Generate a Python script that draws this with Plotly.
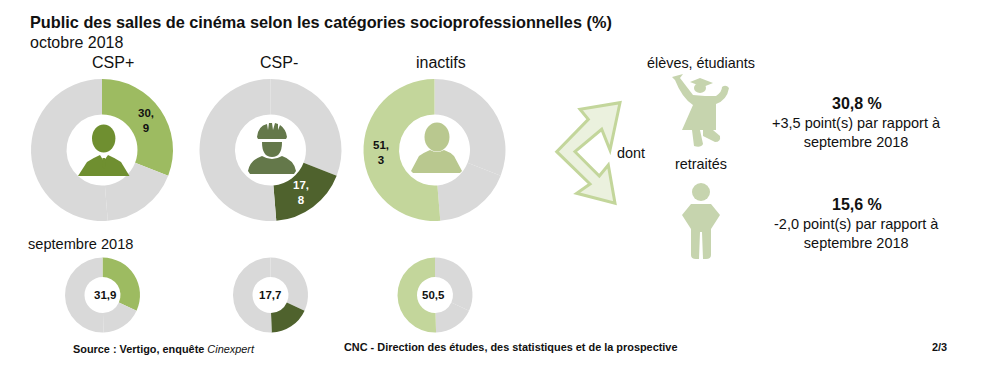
import plotly.graph_objects as go

groups = ["CSP+", "CSP-", "inactifs"]
segments = ["CSP+", "CSP-", "inactifs"]
october = [30.9, 17.8, 51.3]
september = [31.9, 17.7, 50.5]
oct_labels = ["30,<br>9", "17,<br>8", "51,<br>3"]
sep_labels = ["31,9", "17,7", "50,5"]
GREY = "#d9d9d9"
COL = ["#9dbb61", "#4f622d", "#c3d69b"]
W, H = 1000, 381
FONT = "Liberation Sans"
cx = [102, 270.5, 434.5]
big_cy, big_r = 150, 71
small_cx = [102.5, 270.5, 435]
small_cy, small_r = 295, 37.5

fig = go.Figure()


def donut(x, y, r, vals, k, hole):
    colors = [COL[k] if i == k else GREY for i in range(3)]
    fig.add_trace(go.Pie(
        values=vals, labels=segments, sort=False, direction="clockwise", rotation=0,
        hole=hole, textinfo="none", hoverinfo="label+value", showlegend=False,
        marker=dict(colors=colors, line=dict(width=0)),
        domain=dict(x=[(x - r) / W, (x + r) / W], y=[1 - (y + r) / H, 1 - (y - r) / H]),
    ))


for k in range(3):
    donut(cx[k], big_cy, big_r, october, k, 0.5)
    donut(small_cx[k], small_cy, small_r, september, k, 0.48)

shapes = []


def path(d, fill, line=None, lw=0):
    shapes.append(dict(type="path", path=d, fillcolor=fill, line=dict(color=line or fill, width=lw), xref="x", yref="y", layer="above"))


def ell(x, y, rx, ry, fill):
    shapes.append(dict(type="circle", x0=x - rx, x1=x + rx, y0=y - ry, y1=y + ry, fillcolor=fill, line=dict(width=0), xref="x", yref="y", layer="above"))


# businessman
c = "#6f8f30"
ell(103.7, 138.5, 11.7, 14, c)
path("M78,176 L87,162 Q93,158 100,155 L108,155 Q115,158 121,162 L129.5,176 Z", c)
path("M100,155 L103.7,161 L108,155 L106,154 L101,154 Z", "#ffffff")
path("M102.5,158 L105,158 L105.5,165 L103.7,169 L102,165 Z", c)
# worker
c = "#64784a"
path("M257,137 Q258,126 267,124 L268,130 L269,123 L272,123 L273,130 L275,123 L278,124 L278,130 L280,125 Q286,129 287,137 L286,139 L258,139 Z", c)
path("M262,142 L282,142 Q282,157 272,157 Q262,157 262,142 Z", c)
path("M248,171 Q250,160 262,156 Q272,162 282,156 Q294,160 296,171 L294,174 L250,174 Z", c)
# inactive person
c = "#b9c88f"
ell(437, 137, 12.5, 14.5, c)
path("M411,171 L419,156 Q425,152 430,150 Q437,154 444,150 Q450,152 454,156 L462,171 L460,173 L413,173 Z", c)
# student
c = "#c6d4ae"
path("M672,77 L683,74 L680,78 L693,95 L705,96 L716,96 Q722,92 722,87 Q726,84 729,88 Q727,100 716,104 L716,130 L682,130 L693,105 Q682,98 675,80 Z", c)
ell(700, 88, 6, 5, c)
path("M690,82 L700,78 L713,83 L703,87 Z", c)
path("M692,130 L700,130 L703,144 Q701,148 694,146 Z", c)
path("M703,130 L713,130 L720,136 Q721,142 715,142 L703,136 Z", c)
# retiree
ell(701, 192, 9, 9, c)
path("M691,204 L711,204 L720,215 L711,229 L711,255 Q711,259 706,259 L703,259 L702,232 L700,232 L699,259 L696,259 Q691,259 691,255 L691,229 L682,215 Z", c)
# double arrow
path("M556.7,151.7 L588.3,119.3 L580,109.3 L620,102.7 L610,150 L601.7,129.3 L575,151.7 L599.3,176 L608.3,165 L615,203.3 L576.7,193.3 L590,184 Z",
     "#ebf1de", "#c3d69b", 3)

ann = []


def text(x, y, s, size, anchor="center", color="#111111", bold=False):
    if bold:
        s = "<b>" + s + "</b>"
    ann.append(dict(x=x, y=y, text=s, showarrow=False, xref="x", yref="y", xanchor=anchor, yanchor="middle",
                    align="center", font=dict(family=FONT, size=size, color=color)))


text(28, 22, "Public des salles de cinéma selon les catégories socioprofessionnelles (%)", 16.3, "left", bold=True)
text(28, 42, "octobre 2018", 16, "left")
for k, g in enumerate(groups):
    text([113, 279, 441][k], 62, g, 16)
text(26, 244, "septembre 2018", 14.6, "left")
text(146, 120, oct_labels[0], 11.5, bold=True)
text(301, 192, oct_labels[1], 11.5, color="#ffffff", bold=True)
text(381, 152, oct_labels[2], 11.5, bold=True)
for k in range(3):
    text(small_cx[k] + [2, -1, -2][k], 295, sep_labels[k], 11.5, bold=True)
text(631, 153, "dont", 14.4)
text(701, 63, "élèves, étudiants", 14.4)
text(701, 164, "retraités", 14.4)
text(857, 103, "30,8 %", 16, bold=True)
text(856, 132, "+3,5 point(s) par rapport à<br>septembre 2018", 14.5)
text(857, 204, "15,6 %", 16, bold=True)
text(856, 233, "-2,0 point(s) par rapport à<br>septembre 2018", 14.5)
text(71, 349, "<b>Source : Vertigo, enquête</b> <i>Cinexpert</i>", 10.9, "left")
text(342, 347, "CNC - Direction des études, des statistiques et de la prospective", 10.9, "left", bold=True)
text(930, 347, "2/3", 10.9, "left", bold=True)

fig.update_layout(
    width=W, height=H, margin=dict(l=0, r=0, t=0, b=0), autosize=False,
    paper_bgcolor="#ffffff", plot_bgcolor="rgba(0,0,0,0)", shapes=shapes, annotations=ann,
    xaxis=dict(range=[0, W], visible=False, fixedrange=True, domain=[0, 1]),
    yaxis=dict(range=[H, 0], visible=False, fixedrange=True, domain=[0, 1]),
    showlegend=False,
)
fig.write_html("out.html", config={"displayModeBar": False},
               post_script="document.body.style.margin='0';document.documentElement.style.overflow='hidden';")
